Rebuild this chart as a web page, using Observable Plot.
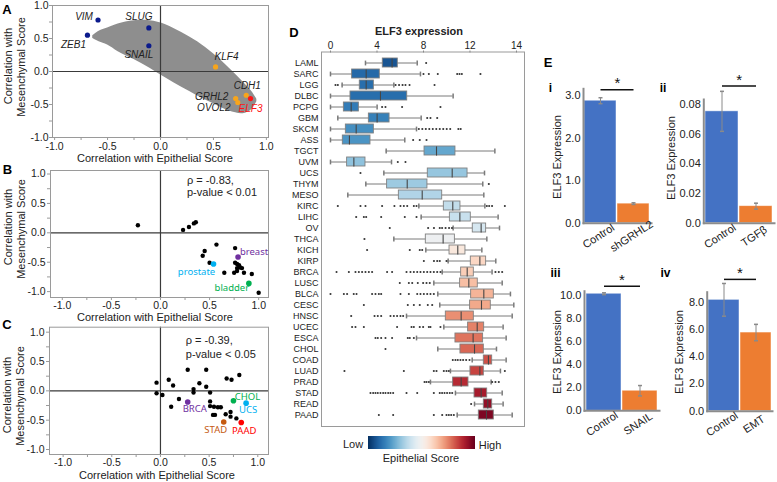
<!DOCTYPE html>
<html><head><meta charset="utf-8">
<script src="https://cdn.jsdelivr.net/npm/d3@7"></script>
<script src="https://cdn.jsdelivr.net/npm/@observablehq/plot@0.6"></script>
<style>
html,body{margin:0;padding:0;background:#fff;}
#root{position:relative;width:777px;height:482px;overflow:hidden;background:#fff;font-family:'Liberation Sans',Arial,sans-serif;}
</style></head><body><div id="root"></div>
<script>
// ---------------- Panel A data ----------------
const cloudEpi     = [-0.64,-0.58,-0.5,-0.4,-0.25,-0.1,0.05,0.2,0.35,0.5,0.65,0.78,0.86,0.91];
const cloudMesLow  = [0.50,0.45,0.40,0.30,0.18,0.05,-0.10,-0.24,-0.37,-0.49,-0.60,-0.64,-0.58,-0.46];
const cloudMesHigh = [0.54,0.61,0.66,0.72,0.77,0.77,0.71,0.59,0.45,0.27,0.05,-0.16,-0.30,-0.42];
const genes     = ["VIM","ZEB1","SLUG","SNAIL","KLF4","CDH1","GRHL2","OVOL2","ELF3"];
const geneEpi   = [-0.59,-0.69,-0.11,-0.11,0.52,0.81,0.71,0.73,0.85];
const geneMes   = [0.78,0.55,0.66,0.39,0.07,-0.36,-0.41,-0.47,-0.41];
const geneGroup = ["mes","mes","mes","mes","epi","epi","epi","epi","target"];

// ---------------- Panel B data ----------------
const bEpi = [-0.23,0.23,0.29,0.34,0.36,0.57,0.45,0.43,0.50,0.65,0.76,0.76,0.78,0.80,0.78,0.81,0.83,0.78,0.75,0.85,0.93,1.0];
const bMes = [0.13,0.05,0.10,0.16,0.18,-0.20,-0.31,-0.39,-0.51,-0.68,-0.26,-0.51,-0.53,-0.55,-0.60,-0.59,-0.60,-0.65,-0.68,-0.68,-0.70,-1.02];
const bTissues   = ["breast","prostate","bladder"];
const bTissueEpi = [0.79,0.54,0.90];
const bTissueMes = [-0.41,-0.53,-0.86];
const bStats = ["ρ = -0.83,","p-value < 0.01"];

// ---------------- Panel C data ----------------
const cEpi = [-0.04,-0.04,0.02,0.085,0.13,0.11,0.19,0.28,0.34,0.34,0.40,0.47,0.47,0.51,0.51,0.51,0.55,0.59,0.62,0.54,0.56,0.67,0.72,0.72,0.78,0.68,0.73,0.81];
const cMes = [0.14,-0.04,-0.07,0.19,0.09,-0.27,-0.14,0.36,0.03,-0.03,0.13,0.36,0.07,-0.03,-0.18,-0.26,-0.27,-0.28,-0.28,-0.41,-0.41,-0.40,-0.36,-0.44,-0.47,0.21,0.19,0.27];
const cTypes   = ["BRCA","CHOL","UCS","STAD","PAAD"];
const cTypeEpi = [0.28,0.75,0.88,0.65,0.83];
const cTypeMes = [-0.19,-0.17,-0.21,-0.53,-0.54];
const cStats = ["ρ = -0.39,","p-value < 0.05"];

// ---------------- Panel D data ----------------
const cancers = ["LAML","SARC","LGG","DLBC","PCPG","GBM","SKCM","ASS","TGCT","UVM","UCS","THYM","MESO","KIRC","LIHC","OV","THCA","KICH","KIRP","BRCA","LUSC","BLCA","CESC","HNSC","UCEC","ESCA","CHOL","COAD","LUAD","PRAD","STAD","READ","PAAD"];
const epiScore = [0.07,0.11,0.12,0.12,0.15,0.16,0.19,0.2,0.24,0.3,0.31,0.32,0.35,0.38,0.39,0.42,0.48,0.55,0.6,0.62,0.65,0.67,0.69,0.73,0.75,0.77,0.79,0.82,0.84,0.88,0.91,0.94,0.97];
const whiskerLow  = [3.01,0,1.0,0,0,0.63,0,0,4.79,0,4.59,3.04,1.49,7.6,7.8,10.55,5.45,8.2,10.12,9.61,8.89,9.23,9.4,6.54,9.75,7.4,9.23,12.19,10.32,8.6,10.75,12.39,10.9];
const q1          = [4.50,1.86,2.52,1.72,1.15,3.30,1.32,1.06,8.09,1.43,8.37,4.87,5.88,9.75,10.27,12.24,8.2,10.24,12.07,11.24,11.15,12.1,12.01,9.92,11.84,10.75,11.18,13.19,12.04,10.55,12.39,13.19,12.76];
const median      = [5.30,3.07,3.07,4.30,1.78,4.01,2.21,1.63,9.12,2.01,10.47,6.60,7.89,10.52,11.13,12.96,9.69,10.95,12.85,11.76,11.9,13.19,12.99,11.24,12.62,12.27,12.39,13.59,12.85,11.24,12.96,13.53,13.42];
const q3          = [5.79,4.24,3.73,6.60,2.44,5.08,3.73,3.44,10.75,3.01,11.79,8.34,9.61,11.18,12.07,13.39,10.7,11.61,13.39,12.33,12.67,14.05,13.79,12.33,13.22,13.13,13.19,13.91,13.19,11.87,13.48,13.91,14.05];
const whiskerHigh = [7.46,7.74,5.45,10.55,4.01,7.80,7.4,6.39,14.14,5.25,13.25,13.10,13.19,13.28,14.42,14.54,13.45,13.02,14.22,13.9,14.77,15.48,15.77,15.63,14.85,15.11,14.28,15.11,14.62,13.82,14.77,14.85,15.63];
const outliers = [
  [8.23],
  [8.0,8.46,9.23,10.9,11.1,11.3,12.9],
  [0.43,0.63,5.6,5.9,6.2,6.45,6.8,8.95],
  [],
  [4.44,4.73,6.16,9.46],
  [8.32,8.6,9.18],
  [7.6,7.9,8.2,8.5,8.8,9.1,9.4,9.7,10.0,10.3,11.0,11.2],
  [7.11,7.68,8.26],
  [],
  [5.79,6.45],
  [2.58],
  [13.62],
  [],
  [0.63,2.58,3.01,4.44,5.5,6.02,6.31,6.6,7.17,7.4,13.45,13.65,13.9,15.0],
  [2.21,2.87,3.07,4.36,6.39,7.4],
  [5.1,8.4,8.9,9.4,9.6,9.9,10.2,10.45],
  [2.92],
  [3.15,6.82,7.68,7.89],
  [8.03,8.9,9.18,9.4,9.98],
  [0.52,1.58,2.15,2.44,2.72,3.01,3.3,3.58,4.87,5.3,6.54,6.88,7.17,7.46,7.74,8.03,8.32,8.6,8.89,9.18,9.46,14.19,14.48,14.77],
  [5.96,6.74,7.03,7.51,7.97,8.26,8.54],
  [0,1.15,1.43,2.0,2.24,3.58,3.87,4.16,4.36,6.02,6.74,7.46,7.74,8.03,8.32,8.6,8.89],
  [2.87,6.65,7.17,7.68,8.37,8.75],
  [1.78,3.79,4.07,4.36,5.16,5.45,5.73,6.02,6.25],
  [1.86,2.15,2.87,5.73,6.97,7.17,7.68,7.97,8.46,8.6,9.46],
  [3.87,4.07,4.36,4.73,5.3,6.65,6.82,7.17],
  [4.73],
  [10.52,10.75,10.95,11.18,11.41,11.67,11.96],
  [1.2,6.31,8.89,9.12,9.75,9.98,10.18,15.0],
  [8.09,8.26,8.46,13.91,14.19,14.48],
  [3.44,3.67,3.87,4.07,4.3,4.53,4.73,4.96,5.16,5.39,6.54,7.46,8.89,9.4,9.6,9.81,10.03,10.26,10.47],
  [12.1],
  [4.16,5.39,8.89,9.61,9.98,10.18,10.38,10.61]
];
const dTicks = [0,4,8,12,16];
const dTickLabels = ["0","4","8","12","14"];

// ---------------- Panel E data ----------------
const eGroups = [["Control","shGRHL2"],["Control","TGFβ"],["Control","SNAIL"],["Control","EMT"]];
const eValues = [[2.88,0.46],[0.0755,0.0115],[10.15,1.74],[8.17,5.77]];
const eErrors = [[0.07,0.02],[0.0135,0.002],[0.08,0.45],[1.2,0.6]];
const eSignif = [3.14,0.0926,10.8,9.67];
const eAxisMax = [3.16,0.0835,10.37,8.73];
const eTicks = [[0,1,2,3],[0,0.02,0.04,0.06,0.08],[0,2,4,6,8,10],[0,2,4,6,8]];
const eTickLabels = [["0.0","1.0","2.0","3.0"],["0.0","0.02","0.04","0.06","0.08"],["0.0","2.0","4.0","6.0","8.0","10.0"],["0.0","2.0","4.0","6.0","8.0"]];

// ---------------- helpers ----------------
const root = document.getElementById("root");
const F = "'Liberation Sans', Arial, Helvetica, sans-serif";
const FN = "'Noto Sans', 'DejaVu Sans', sans-serif";
function place(node, left, top, width) {
  const d = document.createElement("div");
  d.style.cssText = `position:absolute;left:${left}px;top:${top}px;width:${width}px;`;
  d.appendChild(node);
  root.appendChild(d);
}
function label(text, cx, cy, o = {}) {
  const d = document.createElement("div");
  d.textContent = text;
  d.style.cssText = `position:absolute;left:${cx}px;top:${cy}px;white-space:nowrap;line-height:1;` +
    `font-size:${o.size || 11}px;font-weight:${o.bold ? "bold" : "normal"};font-style:${o.italic ? "italic" : "normal"};` +
    `color:${o.color || "#222"};font-family:${o.font || F};transform:translate(-50%,-50%) rotate(${o.rotate || 0}deg);`;
  root.appendChild(d);
}
const baseStyle = {fontFamily: F, fontSize: "10.5px", background: "transparent", color: "#222", overflow: "visible"};
const vline = {draw(ctx, size) { const r = Math.sqrt(size / Math.PI); ctx.moveTo(0, -r); ctx.lineTo(0, r); }};
const hline = {draw(ctx, size) { const r = Math.sqrt(size / Math.PI); ctx.moveTo(-r, 0); ctx.lineTo(r, 0); }};

const major = [-1,-0.5,0,0.5,1];
const minor = [-1,-0.75,-0.5,-0.25,0,0.25,0.5,0.75,1];
const fmt1 = d => d.toFixed(1);

function scatter(o, under, over) {
  return Plot.plot({
    width: o.w, height: o.h, marginLeft: o.mL, marginRight: o.mR, marginTop: o.mT, marginBottom: o.mB,
    x: {domain: o.xd}, y: {domain: o.yd},
    style: baseStyle,
    marks: [
      ...under,
      Plot.ruleX([0], {stroke: "#3a3a3a", strokeWidth: 1.2}),
      Plot.ruleY([0], {stroke: "#3a3a3a", strokeWidth: 1.2}),
      Plot.frame({stroke: "#9a9a9a"}),
      Plot.axisX({ticks: minor, tickSize: 3, tickFormat: () => "", stroke: "#9a9a9a", label: null}),
      Plot.axisY({ticks: minor, tickSize: 3, tickFormat: () => "", stroke: "#9a9a9a", label: null}),
      Plot.axisX({ticks: major, tickSize: 0, tickPadding: o.xp, tickFormat: fmt1, fontSize: 10.5, fill: "#222", label: null}),
      Plot.axisY({ticks: major, tickSize: 0, tickPadding: o.yp, tickFormat: fmt1, fontSize: 10.5, fill: "#222", label: null}),
      ...over
    ]
  });
}

// ---------------- Panel A ----------------
{
  const cloud = cloudEpi.map((x, i) => ({x, lo: cloudMesLow[i], hi: cloudMesHigh[i]}));
  const gd = genes.map((g, i) => ({g, x: geneEpi[i], y: geneMes[i], grp: geneGroup[i]}));
  const groupColor = {mes: "#0b1a8c", epi: "#f7a51c", target: "#ff1414"};
  const off = {VIM:[-14,-3], ZEB1:[-14,10], SLUG:[-10,-11], SNAIL:[-10,9], KLF4:[11,-10], CDH1:[1,-9], GRHL2:[-24,-2], OVOL2:[-24,5], ELF3:[0,10]};
  const texts = gd.map(d => Plot.text([d], {x: "x", y: "y", text: "g", dx: off[d.g][0], dy: off[d.g][1],
    fontStyle: "italic", fontSize: 10, fill: d.grp === "target" ? "#ff1414" : "#222"}));
  place(scatter({w: 272, h: 160, mL: 52, mR: 4, mT: 5, mB: 23, xd: [-1.02, 1.02], yd: [-1, 1], xp: 5, yp: 4},
    [Plot.areaY(cloud, {x: "x", y1: "lo", y2: "hi", fill: "#8e8e8e", curve: "catmull-rom"})],
    [Plot.dot(gd, {x: "x", y: "y", r: 2.6, fill: d => groupColor[d.grp]}), ...texts]), 0, 0, 272);
}

const hlColor = {breast: "#7030a0", prostate: "#00b0f0", bladder: "#00b050", BRCA: "#7030a0", CHOL: "#00b050", UCS: "#00b0f0", STAD: "#c55a11", PAAD: "#ff0000"};
const hlOff = {breast: [16,-5], prostate: [-17,8], bladder: [-17,5], BRCA: [7,7], CHOL: [14,-4], UCS: [2,7], STAD: [-8,8], PAAD: [3,8]};
function highlightMarks(names, xs, ys) {
  const hd = names.map((n, i) => ({n, x: xs[i], y: ys[i]}));
  return [
    Plot.dot(hd, {x: "x", y: "y", r: 2.8, fill: d => hlColor[d.n]}),
    ...hd.map(d => Plot.text([d], {x: "x", y: "y", text: "n", dx: hlOff[d.n][0], dy: hlOff[d.n][1],
      fill: hlColor[d.n], fontSize: 9.5, fontFamily: FN}))
  ];
}
function statMarks(lines, x, y1, y2) {
  return [Plot.text(lines, {x: () => x, y: (d, i) => (i === 0 ? y1 : y2), text: d => d, textAnchor: "start", fontSize: 11, fill: "#222"})];
}

// ---------------- Panel B ----------------
{
  const pts = bEpi.map((x, i) => ({x, y: bMes[i]}));
  place(scatter({w: 272, h: 165, mL: 50, mR: 4, mT: 10, mB: 28, xd: [-1.12, 1.1], yd: [-1.1, 1.06], xp: 4, yp: 5},
    [],
    [Plot.dot(pts, {x: "x", y: "y", r: 2.2, fill: "#000"}),
     ...highlightMarks(bTissues, bTissueEpi, bTissueMes),
     ...statMarks(bStats, 0.27, 0.89, 0.69)]), 0, 160, 272);
}

// ---------------- Panel C ----------------
{
  const pts = cEpi.map((x, i) => ({x, y: cMes[i]}));
  place(scatter({w: 272, h: 162, mL: 49, mR: 4, mT: 6.7, mB: 28, xd: [-1.14, 1.11], yd: [-1.085, 1.085], xp: 4, yp: 5},
    [],
    [Plot.dot(pts, {x: "x", y: "y", r: 2.2, fill: "#000"}),
     ...highlightMarks(cTypes, cTypeEpi, cTypeMes),
     ...statMarks(cStats, 0.26, 0.86, 0.615)]), 0, 320, 272);
}

// ---------------- Panel D ----------------
{
  const boxes = cancers.map((c, i) => ({c, s: epiScore[i], wlo: whiskerLow[i], q1: q1[i], med: median[i], q3: q3[i], whi: whiskerHigh[i]}));
  const outs = cancers.flatMap((c, i) => outliers[i].map(v => ({c, v})));
  const plotD = Plot.plot({
    width: 260, height: 432, marginLeft: 51, marginRight: 6, marginTop: 51.5, marginBottom: 6,
    x: {domain: [-0.774, 16.69]},
    y: {domain: cancers, padding: 0},
    color: {type: "linear", scheme: "RdBu", reverse: true, domain: [0, 1]},
    style: {...baseStyle, fontSize: "9px"},
    marks: [
      Plot.ruleY(boxes, {y: "c", x1: "wlo", x2: "whi", stroke: "#7a7a7a"}),
      Plot.dot(boxes, {y: "c", x: "wlo", symbol: vline, r: 2.4, stroke: "#7a7a7a", fill: "none"}),
      Plot.dot(boxes, {y: "c", x: "whi", symbol: vline, r: 2.4, stroke: "#7a7a7a", fill: "none"}),
      Plot.barX(boxes, {y: "c", x1: "q1", x2: "q3", fill: "s", stroke: "#808080", strokeWidth: 0.9, insetTop: 1, insetBottom: 1}),
      Plot.dot(boxes, {y: "c", x: "med", symbol: vline, r: 4.6, stroke: "#454545", strokeWidth: 1.1, fill: "none"}),
      Plot.dot(outs, {y: "c", x: "v", r: 1.05, fill: "#333"}),
      Plot.frame({stroke: "#9a9a9a"}),
      Plot.axisY({tickSize: 0, tickPadding: 3, fontSize: 9, fill: "#222", label: null}),
      Plot.axisX({anchor: "top", ticks: dTicks, tickFormat: d => dTickLabels[dTicks.indexOf(d)], tickSize: 2, tickPadding: 1, fontSize: 10, fill: "#222", stroke: "#888", label: null})
    ]
  });
  place(plotD, 270, 0, 260);
  label("ELF3 expression", 419, 31, {size: 11, bold: true});
  const ramp = Plot.legend({color: {type: "linear", scheme: "RdBu", reverse: true, domain: [0, 1]},
    width: 107, height: 13, marginTop: 0, marginBottom: 0, marginLeft: 0, marginRight: 0, ticks: 0, tickSize: 0, label: null,
    style: {background: "transparent"}});
  place(ramp, 368, 436, 107);
  label("Low", 353, 443.5, {size: 11});
  label("High", 490, 445, {size: 11});
  label("Epithelial Score", 421, 457.7, {size: 11});
}

// ---------------- Panel E ----------------
const barColors = ["#4472c4", "#ed7d31"];
function barPanel(k, o) {
  const data = eGroups[k].map((g, i) => ({g, v: eValues[k][i], e: eErrors[k][i], c: barColors[i]}));
  const sig = [{a: eGroups[k][0], b: eGroups[k][1], y: eSignif[k]}];
  return Plot.plot({
    width: o.w, height: o.h, marginLeft: o.mL, marginRight: o.mR, marginTop: o.mT, marginBottom: o.mB,
    x: {domain: eGroups[k], paddingInner: 0.02, paddingOuter: 0.03, axis: null},
    y: {domain: [0, eAxisMax[k]]},
    color: {type: "identity"},
    style: {...baseStyle, fontSize: "11px"},
    marks: [
      Plot.barY(data, {x: "g", y: "v", fill: "c", stroke: "#ffffff", strokeOpacity: 0.6, strokeWidth: 0.8}),
      Plot.ruleX(data, {x: "g", y1: d => d.v - d.e, y2: d => d.v + d.e, stroke: "#8a8a8a"}),
      Plot.dot(data, {x: "g", y: d => d.v - d.e, symbol: hline, r: 2, stroke: "#8a8a8a", fill: "none"}),
      Plot.dot(data, {x: "g", y: d => d.v + d.e, symbol: hline, r: 2, stroke: "#8a8a8a", fill: "none"}),
      Plot.frame({anchor: "left", stroke: "#8c8c8c", strokeWidth: 2}),
      Plot.frame({anchor: "bottom", stroke: "#8c8c8c", strokeWidth: 2}),
      Plot.axisY({ticks: eTicks[k], tickFormat: d => eTickLabels[k][eTicks[k].indexOf(d)], tickSize: 0, tickPadding: 3, fontSize: 11, fill: "#222", label: null}),
      Plot.link(sig, {x1: "a", x2: "b", y1: "y", y2: "y", stroke: "#111", strokeWidth: 1.5}),
      Plot.text(sig, {y: "y", text: () => "*", frameAnchor: "middle", dy: -6, fontSize: 15, fill: "#111"}),
      Plot.text(data, {x: "g", text: "g", frameAnchor: "bottom", dy: 16, rotate: -33, fontSize: 11, fill: "#222"})
    ]
  });
}
place(barPanel(0, {w: 110, h: 190, mL: 38, mR: 4, mT: 18.3, mB: 37.3}), 545, 70, 110);
place(barPanel(1, {w: 112, h: 190, mL: 38.3, mR: 3, mT: 29, mB: 37.3}), 665, 70, 112);
place(barPanel(2, {w: 115, h: 200, mL: 39, mR: 1, mT: 30.7, mB: 49.7}), 545, 260, 115);
place(barPanel(3, {w: 112, h: 200, mL: 41.7, mR: 5, mT: 31.7, mB: 49.3}), 665, 260, 112);
label("ELF3 Expression", 556.7, 157, {size: 11, rotate: -90});
label("ELF3 Expression", 671, 158, {size: 11, rotate: -90});
label("ELF3 Expression", 556.7, 352, {size: 11, rotate: -90});
label("ELF3 Expression", 679.3, 352, {size: 11, rotate: -90});

// ---------------- axis titles & panel letters ----------------
label("Correlation with", 7.5, 66, {size: 11, rotate: -90});
label("Mesenchymal Score", 20.5, 67, {size: 11, rotate: -90});
label("Correlation with", 8, 227, {size: 11, rotate: -90});
label("Mesenchymal Score", 21, 229, {size: 11, rotate: -90});
label("Correlation with", 7, 395, {size: 11, rotate: -90});
label("Mesenchymal Score", 19.5, 396, {size: 11, rotate: -90});
label("Correlation with Epithelial Score", 155, 158, {size: 11});
label("Correlation with Epithelial Score", 155, 317, {size: 11});
label("Correlation with Epithelial Score", 157, 474.5, {size: 11});
label("A", 7, 9, {size: 13, bold: true, color: "#000"});
label("B", 7.5, 168.5, {size: 13, bold: true, color: "#000"});
label("C", 7, 324, {size: 13, bold: true, color: "#000"});
label("D", 294, 32, {size: 13, bold: true, color: "#000"});
label("E", 548, 62, {size: 13, bold: true, color: "#000"});
label("i", 550.5, 87.5, {size: 12, bold: true, color: "#000"});
label("ii", 663, 87.5, {size: 12, bold: true, color: "#000"});
label("iii", 555.5, 273, {size: 12, bold: true, color: "#000"});
label("iv", 665.5, 273, {size: 12, bold: true, color: "#000"});
</script></body></html>
